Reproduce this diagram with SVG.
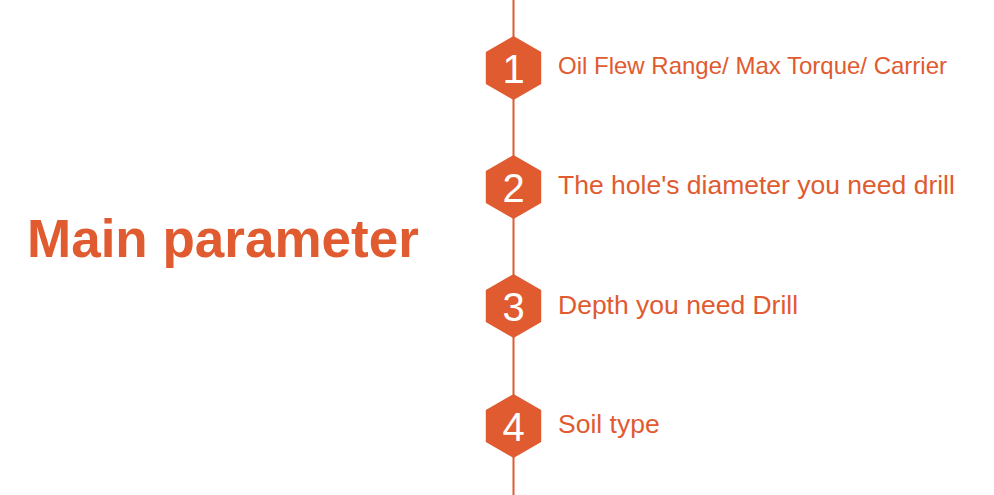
<svg xmlns="http://www.w3.org/2000/svg" width="994" height="495" viewBox="0 0 994 495">
<style>
.hex{fill:#E05B30}
.num{font-family:"Liberation Sans",Arial,sans-serif;font-size:40px;fill:#FFFFFF;text-anchor:middle}
.lbl{font-family:"Liberation Sans",Arial,sans-serif;font-size:26.5px;fill:#E05B30}
.title{font-family:"Liberation Sans",Arial,sans-serif;font-size:53px;font-weight:bold;fill:#E05B30}
.conn{stroke:#E05B30;stroke-width:2;fill:none}
</style>
<defs>
<polygon id="hx" points="0,-32 27.7,-16 27.7,16 0,32 -27.7,16 -27.7,-16"/>
</defs>
<rect width="994" height="495" fill="#FFFFFF"/>
<g id="connectors">
<line class="conn" x1="513.5" y1="0" x2="513.5" y2="495"/>
</g>
<g id="title">
<text class="title" x="27" y="257">Main parameter</text>
</g>
<g id="node1">
<use href="#hx" class="hex" x="513.5" y="68"/>
<text class="num" x="513.5" y="83">1</text>
<text class="lbl" x="558" y="74" style="font-size:24px">Oil Flew Range/ Max Torque/ Carrier</text>
</g>
<g id="node2">
<use href="#hx" class="hex" x="513.5" y="187"/>
<text class="num" x="513.5" y="202">2</text>
<text class="lbl" x="558" y="194">The hole's diameter you need drill</text>
</g>
<g id="node3">
<use href="#hx" class="hex" x="513.5" y="306"/>
<text class="num" x="513.5" y="321">3</text>
<text class="lbl" x="558" y="314">Depth you need Drill</text>
</g>
<g id="node4">
<use href="#hx" class="hex" x="513.5" y="426"/>
<text class="num" x="513.5" y="441">4</text>
<text class="lbl" x="558" y="433">Soil type</text>
</g>
</svg>
